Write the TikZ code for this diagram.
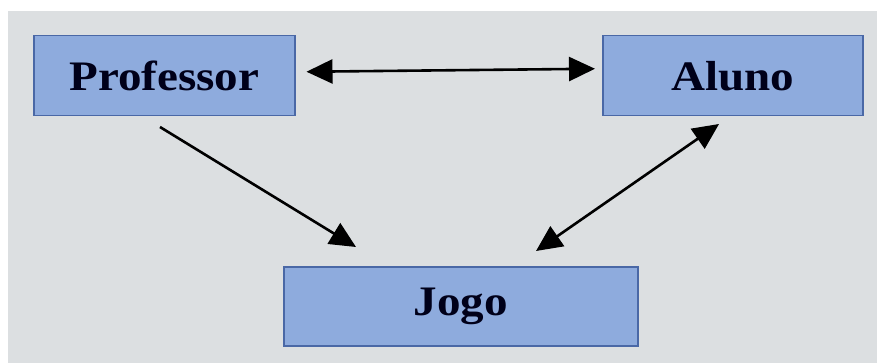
\documentclass[tikz,border=0pt]{standalone}
\usepackage{fontspec}
\setmainfont[FakeStretch=1.12]{Liberation Serif}
\usetikzlibrary{arrows.meta}
\definecolor{bgray}{HTML}{DCDFE1}
\definecolor{boxfill}{HTML}{8EABDD}
\definecolor{boxline}{HTML}{4A68A6}
\tikzset{
  box/.style={draw=boxline, line width=1.5pt, fill=boxfill, inner sep=0pt, anchor=north west,
    font=\fontsize{42}{48}\selectfont\bfseries, text=black!90!blue},
  tip/.style={Triangle[length=26pt,width=24pt]},
  conn/.style={line width=2.6pt, black, -{Triangle[length=26pt,width=24pt]}},
  dconn/.style={line width=2.6pt, black, {Triangle[length=26pt,width=24pt]}-{Triangle[length=26pt,width=24pt]}}
}
\begin{document}
\begin{tikzpicture}[x=1pt,y=-1pt]
\useasboundingbox[fill=white] (0,0) rectangle (877,363);
\fill[bgray] (8,11) rectangle (877,363);
\node[box, minimum width=261pt, minimum height=80pt] (prof) at (33,35) {Professor};
\node[box, minimum width=260pt, minimum height=80pt] (aluno) at (602,35) {Aluno};
\node[box, minimum width=354pt, minimum height=79pt] (jogo) at (283,266) {Jogo};
\coordinate (p1) at (160,127);
\coordinate (j1) at (356,247);
\coordinate (j2) at (536,251);
\coordinate (a2) at (719,124);
\draw[dconn] ([xshift=11pt,yshift=4pt]prof.east) -- ([xshift=-7pt,yshift=7pt]aluno.west);
\draw[conn] (p1) -- (j1);
\draw[dconn] (j2) -- (a2);
\end{tikzpicture}
\end{document}
